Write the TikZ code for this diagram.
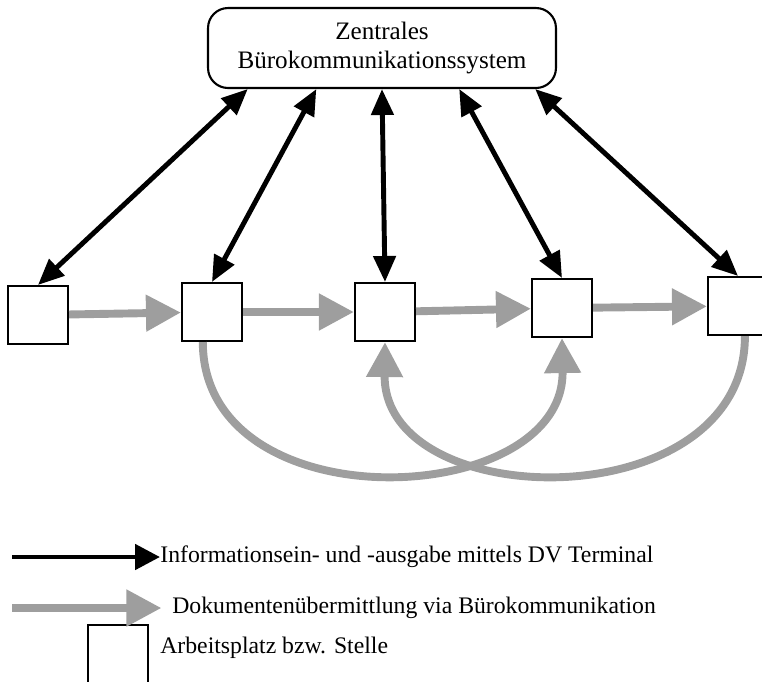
\documentclass[tikz,border=0pt]{standalone}
\usepackage{fontspec}
\setmainfont{Liberation Serif}
\usetikzlibrary{arrows.meta}

\begin{document}
\begin{tikzpicture}[x=0.02cm,y=-0.02cm,
        stelle/.style={draw,line width=1.2pt,fill=white,minimum width=1.2cm,minimum height=1.16cm,inner sep=0pt},
        dvpfeil/.style={line width=2.8pt,{Triangle[width=0.44cm,length=0.52cm]}-{Triangle[width=0.44cm,length=0.52cm]}},
        dvlegende/.style={line width=2.8pt,-{Triangle[width=0.5cm,length=0.5cm]}},
        bkpfeil/.style={line width=4.5pt,draw=black!38,-{Triangle[width=0.7cm,length=0.7cm,fill=black!38]}},
        legende/.style={anchor=west,font=\fontsize{13.5}{16}\selectfont,inner sep=0pt}]
        \useasboundingbox (0,0) rectangle (762,681);

        \node[draw,line width=1.2pt,rounded corners=0.4cm,minimum width=6.96cm,minimum height=1.6cm,align=center,
              font=\fontsize{14.3}{16.5}\selectfont] (zentrale) at (382,48) {Zentrales\\Bürokommunikationssystem}; %zentrale

        \node[stelle] (b1) at (38,315) {}; %stelle 1
        \node[stelle] (b2) at (212,312) {}; %stelle 2
        \node[stelle] (b3) at (385,312) {}; %stelle 3
        \node[stelle] (b4) at (562,308) {}; %stelle 4
        \node[stelle] (b5) at (738,306) {}; %stelle 5

        \draw[dvpfeil] (zentrale.197.7) -- (b1.north);
        \draw[dvpfeil] (zentrale.212) -- (b2.north);
        \draw[dvpfeil] (zentrale.270) -- (b3.north);
        \draw[dvpfeil] (zentrale.332.2) -- (b4.north);
        \draw[dvpfeil] (zentrale.345.3) -- (b5.north);

        \draw[bkpfeil] (b1) -- (b2);
        \draw[bkpfeil] (b2) -- (b3);
        \draw[bkpfeil] (b3) -- (b4);
        \draw[bkpfeil] (b4) -- (b5);

        \draw[bkpfeil] (b2.253) .. controls (203,525) and (565,510) .. (b4.south);
        \draw[bkpfeil] (b5.283) .. controls (745,520) and (383,515) .. (b3.south);

        % legende
        \coordinate (l1) at (12,557);
        \coordinate (l2) at (12,608);
        \node[legende] (t1) at (160,557) {Informationsein- und -ausgabe mittels DV Terminal};
        \node[legende] (t2) at (172,608) {Dokumentenübermittlung via Bürokommunikation};
        \node[stelle] (b0) at (118,654) {};
        \node[legende] (t3) at (160,648) {Arbeitsplatz bzw. Stelle};
        \draw[dvlegende] (l1) -- (t1.west);
        \draw[bkpfeil] (l2) -- ([xshift=-6pt]t2.west);
\end{tikzpicture}
\end{document}
